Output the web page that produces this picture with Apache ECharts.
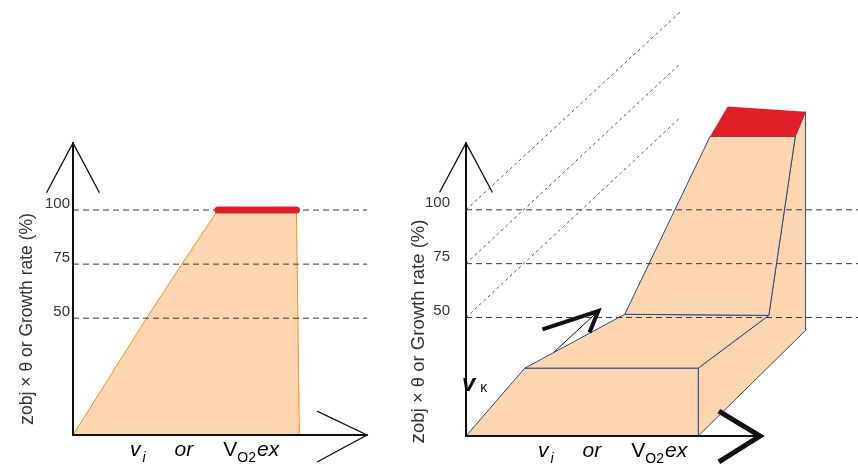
<!DOCTYPE html>
<html><head><meta charset="utf-8">
<script src="https://cdn.jsdelivr.net/npm/echarts@6/dist/echarts.min.js"></script>
<style>html,body{margin:0;padding:0;background:#fff}#c{width:858px;height:470px}</style>
</head><body><div id="c"></div>
<script>
// ---- shared ----
const tickValues = [50, 75, 100];
const tickLabels = ['50', '75', '100'];
const yName = '{z|z}obj \u00d7 \u03b8 or Growth rate (%)';

// ---- left panel (2-D) ----
const leftArea = [[0, -4], [25, 50], [37, 75], [49.3, 100], [76, 100], [77, -4]];
const leftOptimum = [[49.3, 100], [76, 100]];
const leftYArrow = [[-9, 108], [0, 131], [9, 108]];
const leftXArrow = [[83, 7], [100, -4], [83, -16.5]];

// ---- right panel (3-D sketch) ----
const boxFront = [[0, -5], [20, 26.5], [79, 26.5], [79, -5]];
const boxTop = [[20, 26.5], [54, 51.5], [103, 51], [79, 26.5]];
const tallFront = [[54, 51.5], [83, 134], [112, 134], [103, 51]];
const sideFace = [[79, -5], [115.5, 44], [115.5, 145.5], [112, 134], [103, 51], [79, 26.5]];
const topFace = [[83, 134], [89, 148], [115.5, 145.5], [112, 134]];
const diagonals = [[[0, 100], [73, 192]], [[0, 75], [73, 168]], [[0, 50], [73, 143]]];
const vkShaft = [[30, 34], [45, 53]];
const vkHead = [[26, 44.5], [45, 53], [42, 43]];
const rightYArrow = [[-9, 108], [0, 131], [9, 108]];
const rightXArrow = [[86, 6.5], [100, -5], [86, -17]];

const FONT = '"Liberation Sans", Arial, sans-serif';
const FILL = '#fdd5ae';
const ORANGE = '#f4901e';
const NAVY = '#2b4b80';
const RED = '#e01f27';

function poly(idx, pts, fill, stroke, z) {
  return {
    type: 'custom', xAxisIndex: idx, yAxisIndex: idx, data: pts, clip: false, silent: true, z: z,
    renderItem: function (params, api) {
      if (params.dataIndex !== 0) return null;
      return { type: 'polygon', shape: { points: pts.map(function (p) { return api.coord(p); }) },
        style: { fill: fill, stroke: stroke, lineWidth: 1, lineJoin: 'miter' } };
    }
  };
}
function line(idx, pts, color, width, dash, z, cap) {
  return {
    type: 'custom', xAxisIndex: idx, yAxisIndex: idx, data: pts, clip: false, silent: true, z: z,
    renderItem: function (params, api) {
      if (params.dataIndex !== 0) return null;
      return { type: 'polyline', shape: { points: pts.map(function (p) { return api.coord(p); }) },
        style: { fill: null, stroke: color, lineWidth: width, lineDash: dash || null,
          lineCap: cap || 'butt', lineJoin: 'miter' } };
    }
  };
}

const series = [];
// left
series.push(poly(0, leftArea, FILL, ORANGE, 1));
tickValues.forEach(function (v) { series.push(line(0, [[0, v], [100, v]], '#3a3a3a', 1, [6, 4], 3)); });
series.push(line(0, leftOptimum, RED, 7, null, 4, 'round'));
series.push(line(0, leftYArrow, '#111', 1.3, null, 5));
series.push(line(0, leftXArrow, '#111', 1.3, null, 5));
// right
series.push(poly(1, sideFace, FILL, NAVY, 1));
series.push(poly(1, boxFront, FILL, NAVY, 1));
series.push(poly(1, boxTop, FILL, NAVY, 1));
series.push(poly(1, tallFront, FILL, NAVY, 1));
series.push(poly(1, topFace, RED, null, 2));
tickValues.forEach(function (v) { series.push(line(1, [[0, v], [134, v]], '#3a3a3a', 1, [6, 4], 3)); });
diagonals.forEach(function (d) { series.push(line(1, d, '#555', 1, [3, 3], 3)); });
series.push(line(1, vkShaft, '#111', 1, null, 5));
series.push(line(1, vkHead, '#111', 4, null, 5));
series.push(line(1, rightYArrow, '#111', 1.3, null, 5));
series.push(line(1, rightXArrow, '#111', 5, null, 5));

function yAxisDef(idx, min, margin, gap, shift, fs) {
  return {
    gridIndex: idx, type: 'value', min: min, max: 131, z: 10,
    axisLine: { show: true, onZero: false, lineStyle: { color: '#111', width: 2 } },
    axisTick: { show: false }, splitLine: { show: false },
    axisLabel: {
      customValues: tickValues, margin: margin, color: '#333', fontSize: 15, fontFamily: FONT,
      verticalAlign: 'bottom', lineHeight: 13,
      formatter: function (v) { return tickLabels[tickValues.indexOf(v)]; }
    },
    name: yName, nameLocation: 'middle', nameRotate: 90, nameGap: gap, nameMoveOverlap: false,
    nameTextStyle: { fontSize: fs, color: '#333', fontFamily: FONT, padding: [0, shift, 0, 0],
      rich: { z: { fontSize: fs + 2.5, fontFamily: FONT, color: '#333' } } }
  };
}
function xAxisDef(idx) {
  return {
    gridIndex: idx, type: 'value', min: 0, max: 100, z: 10,
    axisLine: { show: true, onZero: false, lineStyle: { color: '#111', width: 2 } },
    axisTick: { show: false }, axisLabel: { show: false }, splitLine: { show: false }
  };
}

const xRich = {
  v: { fontSize: 21, fontStyle: 'italic', fontFamily: FONT, color: '#222', lineHeight: 24 },
  i: { fontSize: 14, fontStyle: 'italic', fontFamily: FONT, color: '#222', lineHeight: 14, padding: [15, 0, 0, 2] },
  o: { fontSize: 21, fontStyle: 'italic', fontFamily: FONT, color: '#222', lineHeight: 24, padding: [0, 0, 0, 29] },
  V: { fontSize: 21, fontFamily: FONT, color: '#222', lineHeight: 24, padding: [0, 0, 0, 30] },
  s: { fontSize: 14, fontFamily: FONT, color: '#222', lineHeight: 14, padding: [15, 0, 0, 0] },
  e: { fontSize: 21, fontStyle: 'italic', fontFamily: FONT, color: '#222', lineHeight: 24, padding: [0, 0, 0, 1] }
};
const xText = '{v|v}{i|i}{o|or}{V|V}{s|O2}{e|ex}';

const chart = echarts.init(document.getElementById('c'), null, { renderer: 'canvas' });
chart.setOption({
  animation: false,
  backgroundColor: '#fff',
  grid: [
    { left: 73, top: 143, width: 294, height: 292 },
    { left: 466, top: 143, width: 294, height: 293 }
  ],
  xAxis: [xAxisDef(0), xAxisDef(1)],
  yAxis: [yAxisDef(0, -4, 3, 36, 60, 17.5), yAxisDef(1, -5, 16, 37, 84, 18.5)],
  graphic: [
    { type: 'text', left: 130, top: 436, z: 20, style: { text: xText, rich: xRich } },
    { type: 'text', left: 538, top: 437, z: 20, style: { text: xText, rich: xRich } },
    { type: 'text', left: 462, top: 372, z: 20, style: { text: '{v|v}{k|\u03ba}', rich: {
      v: { fontSize: 24, fontStyle: 'italic', fontWeight: 'bold', fontFamily: FONT, color: '#111', lineHeight: 26 },
      k: { fontSize: 14, fontFamily: FONT, color: '#111', lineHeight: 14, padding: [8, 0, 0, 5] }
    } } }
  ],
  series: series
});
</script>
</body></html>
